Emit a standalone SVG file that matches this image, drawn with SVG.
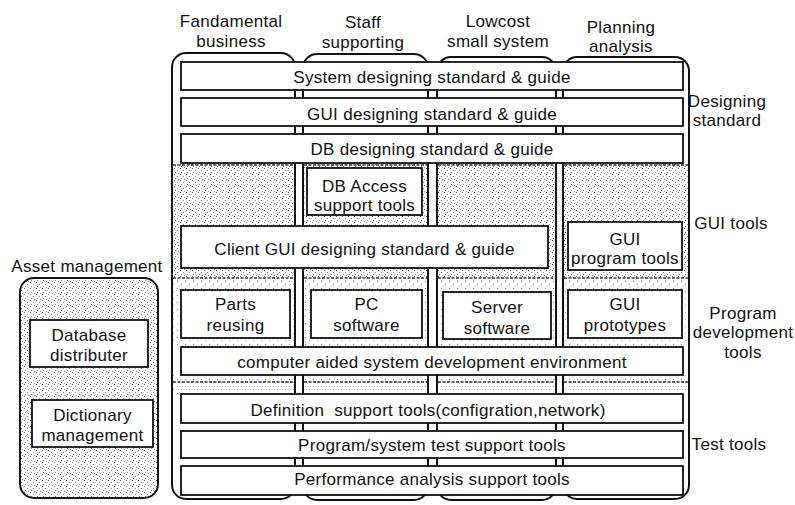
<svg xmlns="http://www.w3.org/2000/svg" width="795" height="505" viewBox="0 0 795 505">
<defs>
<pattern id="dense" width="6" height="6" patternUnits="userSpaceOnUse">
<rect x="0" y="0" width="1" height="1" fill="#666"/>
<rect x="3" y="2" width="1" height="1" fill="#888"/>
<rect x="1" y="4" width="1" height="1" fill="#777"/>
<rect x="4" y="5" width="1" height="1" fill="#999"/>
</pattern>
<pattern id="light" width="8" height="7" patternUnits="userSpaceOnUse">
<rect x="1" y="1" width="1" height="1" fill="#888"/>
<rect x="5" y="4" width="1" height="1" fill="#aaa"/>
</pattern>
</defs>
<style>
text{font-family:"Liberation Sans",Arial,sans-serif;font-size:17px;letter-spacing:0.3px;fill:#111}
.m{text-anchor:middle}
.col{fill:#fff;stroke:#111;stroke-width:2}
.bar{fill:#fff;stroke:#111;stroke-width:1.8}
.div{stroke:#333;stroke-width:1.3;stroke-dasharray:3 1.5;fill:none}
</style>

<g id="labels-top">
<text class="m" x="231" y="27">Fandamental</text>
<text class="m" x="231" y="47">business</text>
<text class="m" x="363" y="28">Staff</text>
<text class="m" x="363" y="48">supporting</text>
<text class="m" x="498" y="27">Lowcost</text>
<text class="m" x="498" y="47">small system</text>
<text class="m" x="621" y="33">Planning</text>
<text class="m" x="621" y="52">analysis</text>
</g>

<g id="columns">
<rect class="col" x="172" y="53" width="123" height="446" rx="14"/>
<rect class="col" x="303" y="54" width="125" height="446" rx="14"/>
<rect class="col" x="437" y="57" width="119" height="443" rx="14"/>
<rect class="col" x="563" y="57" width="126" height="442" rx="14"/>
</g>

<g id="shading">
<rect x="173" y="164" width="121" height="114" fill="url(#dense)"/>
<rect x="304" y="164" width="123" height="114" fill="url(#dense)"/>
<rect x="438" y="164" width="117" height="114" fill="url(#dense)"/>
<rect x="564" y="164" width="124" height="114" fill="url(#dense)"/>
<rect x="173" y="278" width="121" height="69" fill="url(#light)"/>
<rect x="304" y="278" width="123" height="69" fill="url(#light)"/>
<rect x="438" y="278" width="117" height="69" fill="url(#light)"/>
<rect x="564" y="278" width="124" height="69" fill="url(#light)"/>
<rect x="173" y="375" width="121" height="19" fill="url(#light)"/>
<rect x="304" y="375" width="123" height="19" fill="url(#light)"/>
<rect x="438" y="375" width="117" height="19" fill="url(#light)"/>
<rect x="564" y="375" width="124" height="19" fill="url(#light)"/>
</g>

<g id="dividers">
<path class="div" d="M173,165H294M304,165H427M438,165H555M564,165H688"/>
<path class="div" d="M173,278H294M304,278H427M438,278H555M564,278H688"/>
<path class="div" d="M173,382H294M304,382H427M438,382H555M564,382H688"/>
</g>

<g id="connectors"></g>

<g id="system-designing">
<rect class="bar" x="181" y="62" width="502" height="28"/>
<text class="m" x="432" y="83">System designing standard &amp; guide</text>
</g>
<g id="gui-designing">
<rect class="bar" x="181" y="98" width="502" height="28"/>
<text class="m" x="432" y="120">GUI designing standard &amp; guide</text>
</g>
<g id="db-designing">
<rect class="bar" x="181" y="134" width="502" height="29"/>
<text class="m" x="432" y="155">DB designing standard &amp; guide</text>
</g>
<g id="db-access">
<rect class="bar" x="307" y="168" width="115" height="47"/>
<text class="m" x="364.5" y="192">DB Access</text>
<text class="m" x="364.5" y="211">support tools</text>
</g>
<g id="client-gui">
<rect class="bar" x="181" y="226" width="367" height="42"/>
<text class="m" x="364.5" y="255">Client GUI designing standard &amp; guide</text>
</g>
<g id="gui-program-tools">
<rect class="bar" x="568" y="222" width="114" height="48"/>
<text class="m" x="625" y="245">GUI</text>
<text class="m" x="625" y="264">program tools</text>
</g>
<g id="parts-reusing">
<rect class="bar" x="181" y="290" width="109" height="48"/>
<text class="m" x="235.5" y="310">Parts</text>
<text class="m" x="235.5" y="331">reusing</text>
</g>
<g id="pc-software">
<rect class="bar" x="311" y="290" width="111" height="48"/>
<text class="m" x="366.5" y="310">PC</text>
<text class="m" x="366.5" y="331">software</text>
</g>
<g id="server-software">
<rect class="bar" x="443" y="292" width="108" height="47"/>
<text class="m" x="497" y="313">Server</text>
<text class="m" x="497" y="334">software</text>
</g>
<g id="gui-prototypes">
<rect class="bar" x="568" y="290" width="114" height="48"/>
<text class="m" x="625" y="310">GUI</text>
<text class="m" x="625" y="331">prototypes</text>
</g>
<g id="case-env">
<rect class="bar" x="181" y="347" width="502" height="28"/>
<text class="m" x="432" y="368">computer aided system development environment</text>
</g>
<g id="definition-tools">
<rect class="bar" x="181" y="394" width="502" height="29"/>
<text class="m" x="428" y="416" xml:space="preserve">Definition  support tools(configration,network)</text>
</g>
<g id="test-tools">
<rect class="bar" x="181" y="431" width="502" height="27"/>
<text class="m" x="432" y="451">Program/system test support tools</text>
</g>
<g id="performance-tools">
<rect class="bar" x="181" y="466" width="502" height="29"/>
<text class="m" x="432" y="485">Performance analysis support tools</text>
</g>

<g id="labels-right">
<text class="m" x="727" y="107">Designing</text>
<text class="m" x="727" y="126">standard</text>
<text class="m" x="731" y="229">GUI tools</text>
<text class="m" x="743" y="319">Program</text>
<text class="m" x="743" y="338">development</text>
<text class="m" x="743" y="358">tools</text>
<text class="m" x="729" y="450">Test tools</text>
</g>

<g id="asset-management">
<text class="m" x="87" y="272">Asset management</text>
<rect x="20" y="278" width="138" height="220" rx="14" fill="url(#dense)" stroke="#111" stroke-width="2"/>
</g>
<g id="database-distributer">
<rect class="bar" x="30" y="320" width="118" height="47"/>
<text class="m" x="89" y="341">Database</text>
<text class="m" x="89" y="361">distributer</text>
</g>
<g id="dictionary-management">
<rect class="bar" x="32" y="400" width="121" height="47"/>
<text class="m" x="92.5" y="421">Dictionary</text>
<text class="m" x="92.5" y="441">management</text>
</g>
</svg>
